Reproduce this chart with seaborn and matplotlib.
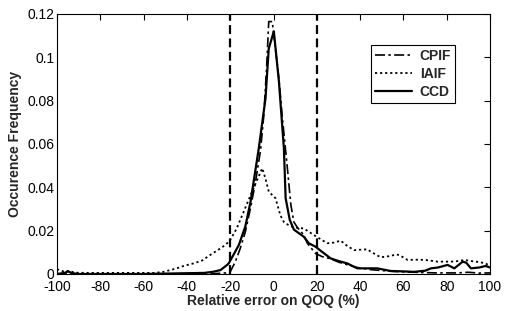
import numpy as np
import pandas as pd
import matplotlib
matplotlib.use("Agg")
import matplotlib.pyplot as plt
import seaborn as sns

sns.set_style("white")
plt.rcParams["font.family"] = ["Liberation Sans", "DejaVu Sans"]
plt.rcParams["axes.unicode_minus"] = False

# valeurs
x_cpif = [-100, -60, -30, -22, -20, -17.6, -15.3, -13, -10.5, -8.3, -6, -4.5, -3.2, -2.2, -0.6,
          0.9, 2.5, 4, 6.3, 8, 9.4, 11, 14, 15.6, 19.4, 22.5, 26.4, 30, 35, 38.7, 45, 55, 65,
          75, 85, 90, 95, 100]
y_cpif = [0, 0, 0, 0.0005, 0.001, 0.0057, 0.012, 0.0195, 0.031, 0.0426, 0.057, 0.073, 0.095,
          0.1165, 0.1165, 0.104, 0.09, 0.073, 0.05, 0.032, 0.024, 0.0215, 0.018, 0.0142, 0.0095,
          0.008, 0.007, 0.0055, 0.004, 0.003, 0.002, 0.0012, 0.0008, 0.0005, 0.0005, 0.0008,
          0.0004, 0.0005]

x_iaif = [-100, -97, -94.3, -92, -85, -70, -55, -50.8, -45, -41.5, -36.9, -33, -29.2, -25,
          -22.2, -20, -17, -14.5, -12, -9.9, -7.5, -5.2, -3.7, -2.2, 0.9, 3.2, 4.8, 7, 9.4, 14,
          19.4, 24.8, 28, 31, 34, 37.2, 40, 43.4, 44.9, 49.5, 54, 56.5, 58, 61.9, 66, 70, 75.8,
          82, 86, 88, 91, 95, 98, 100]
y_iaif = [0.0022, 0.0012, 0.0015, 0.0006, 0.0005, 0.0005, 0.0005, 0.001, 0.0025, 0.0037,
          0.0049, 0.0062, 0.0088, 0.0115, 0.0134, 0.0157, 0.021, 0.027, 0.033, 0.038, 0.0435,
          0.0488, 0.044, 0.038, 0.035, 0.027, 0.024, 0.0225, 0.0215, 0.021, 0.0175, 0.0142,
          0.0145, 0.0154, 0.013, 0.011, 0.0112, 0.0114, 0.0103, 0.0077, 0.0083, 0.009, 0.0088,
          0.0065, 0.0066, 0.0065, 0.0057, 0.0057, 0.006, 0.0065, 0.006, 0.0055, 0.0049, 0.0035]

x_ccd = [-100, -96.5, -95, -93, -90, -60, -32, -28, -24.5, -21.4, -20.7, -18.4, -16, -13,
         -10.6, -6.8, -3.7, -2.2, 0.15, 2.5, 4.8, 5.6, 7.5, 9.4, 14, 16.3, 19.4, 23, 26.4, 30,
         34, 38.7, 44.9, 48, 54, 60, 65, 70, 72.7, 76, 80.4, 83.5, 87.4, 89, 91.2, 95, 98, 100]
y_ccd = [0, 0.0005, 0.0012, 0.0004, 0, 0, 0.0005, 0.001, 0.0018, 0.0042, 0.0049, 0.009,
         0.0134, 0.022, 0.0334, 0.058, 0.081, 0.104, 0.112, 0.0888, 0.058, 0.035, 0.025,
         0.0205, 0.0172, 0.0142, 0.0126, 0.0098, 0.0072, 0.006, 0.0049, 0.0026, 0.0026,
         0.0026, 0.0014, 0.0012, 0.001, 0.0015, 0.0026, 0.003, 0.0042, 0.0026, 0.0057, 0.0052,
         0.0026, 0.003, 0.0037, 0.003]

limites = [-20, 20]

fig, ax = plt.subplots(figsize=(5.08, 3.11), dpi=100)
fig.subplots_adjust(left=0.1122, right=0.9646, bottom=0.119, top=0.955)

for xv in limites:
    ax.axvline(xv, color="black", linestyle=(0, (4, 2)), linewidth=1.6, zorder=1)

sns.lineplot(x=x_cpif, y=y_cpif, ax=ax, color="black", linewidth=1.2,
             linestyle=(0, (6, 2, 1.5, 2)), label="CPIF")
sns.lineplot(x=x_iaif, y=y_iaif, ax=ax, color="black", linewidth=1.3,
             linestyle=(0, (1.2, 1.6)), label="IAIF")
sns.lineplot(x=x_ccd, y=y_ccd, ax=ax, color="black", linewidth=1.6,
             linestyle="-", label="CCD")

ax.set_xlim(-100, 100)
ax.set_ylim(0, 0.12)
ax.set_xticks(np.arange(-100, 101, 20))
ax.set_yticks([0, 0.02, 0.04, 0.06, 0.08, 0.1, 0.12])
ax.set_yticklabels(["0", "0.02", "0.04", "0.06", "0.08", "0.1", "0.12"])
ax.tick_params(direction="in", top=True, right=True, length=4, width=0.8,
               labelsize=10, pad=2, colors="black")
ax.tick_params(axis="x", pad=4)
for s in ax.spines.values():
    s.set_color("black")
    s.set_linewidth(0.8)

ax.set_xlabel("Relative error on QOQ (%)", fontsize=10, fontweight="bold", labelpad=0)
ax.set_ylabel("Occurence Frequency", fontsize=10, fontweight="bold", labelpad=4)

leg = ax.legend(loc="upper left", bbox_to_anchor=(0.725, 0.881), frameon=True,
                fancybox=False, edgecolor="black", framealpha=1,
                prop={"weight": "bold", "size": 10}, handlelength=2.66,
                handletextpad=0.55, borderpad=0.3, labelspacing=0.28,
                borderaxespad=0)
leg.get_frame().set_linewidth(0.8)

plt.savefig("out.png", dpi=100)
